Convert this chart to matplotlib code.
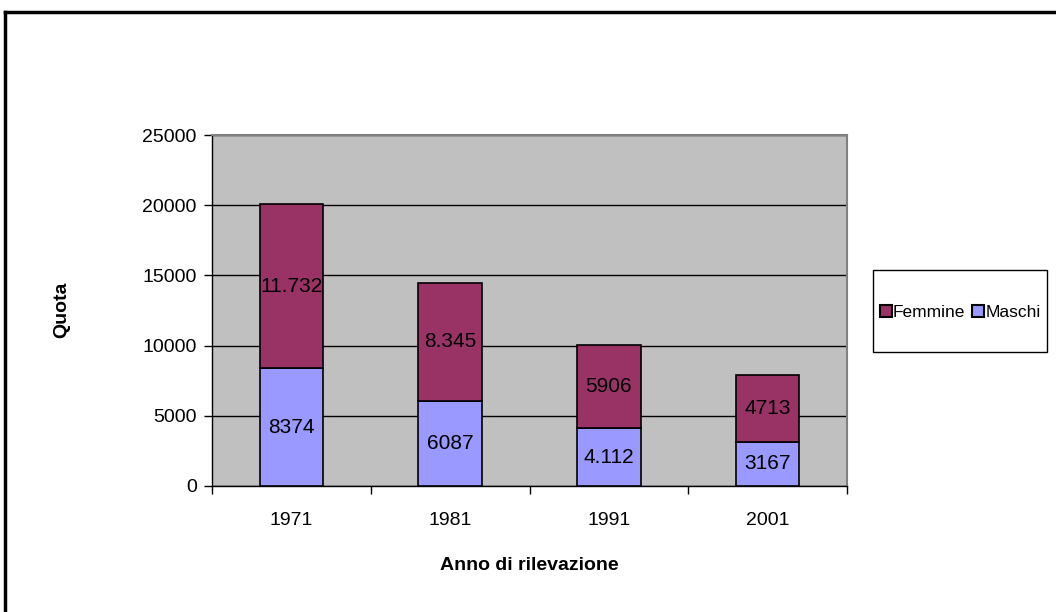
import numpy as np
import matplotlib.pyplot as plt
from matplotlib.lines import Line2D
from matplotlib.patches import Rectangle

# Data
anni = ['1971', '1981', '1991', '2001']
maschi = [8374, 6087, 4112, 3167]
femmine = [11732, 8345, 5906, 4713]
etichette_maschi = ['8374', '6087', '4.112', '3167']
etichette_femmine = ['11.732', '8.345', '5906', '4713']

plt.rcParams['font.family'] = ['Liberation Sans Narrow', 'Liberation Sans', 'DejaVu Sans']

col_f = '#993366'
col_m = '#9999FF'

fig = plt.figure(figsize=(10.56, 6.12), dpi=100)
W, H = 1056, 612
# plot area in pixels: x 212..847, y 135..486
ax = fig.add_axes([212 / W, 1 - 486 / H, (847 - 212) / W, (486 - 135) / H])
ax.set_facecolor('#C0C0C0')

x = np.arange(len(anni))
w = 0.4
ax.bar(x, maschi, w, color=col_m, edgecolor='black', linewidth=1.2, zorder=3)
ax.bar(x, femmine, w, bottom=maschi, color=col_f, edgecolor='black',
       linewidth=1.2, zorder=3)

for i in range(len(anni)):
    ax.text(x[i], maschi[i] / 2, etichette_maschi[i], ha='center', va='center',
            fontsize=15, zorder=4)
    ax.text(x[i], maschi[i] + femmine[i] / 2, etichette_femmine[i], ha='center',
            va='center', fontsize=15, zorder=4)

ax.set_xlim(-0.5, len(anni) - 0.5)
ax.set_ylim(0, 25000)
ax.set_yticks(range(0, 25001, 5000))
ax.yaxis.grid(True, color='black', linewidth=1)
ax.set_axisbelow(True)
ax.set_xticks(x)
ax.set_xticklabels(anni)
ax.set_xticks(np.arange(-0.5, len(anni), 1), minor=True)
ax.tick_params(axis='x', which='major', length=0, pad=19, labelsize=14)
ax.tick_params(axis='x', which='minor', length=6, width=1, direction='out')
ax.tick_params(axis='y', length=6, width=1, direction='out', labelsize=14, pad=5)

for s in ['top', 'right']:
    ax.spines[s].set_color('#808080')
    ax.spines[s].set_linewidth(1.5)
ax.spines['left'].set_linewidth(1)
ax.spines['bottom'].set_linewidth(1)

ax.set_xlabel('Anno di rilevazione', fontsize=14, fontweight='bold', labelpad=20)
fig.text(62 / W, 1 - 310 / H, 'Quota', rotation=90, ha='center', va='center',
         fontsize=14, fontweight='bold')

# legend box
fig.add_artist(Rectangle((873 / W, 1 - 352 / H), (1047 - 873) / W, (352 - 270) / H,
                         transform=fig.transFigure, facecolor='white',
                         edgecolor='black', linewidth=1))
handles = [
    Line2D([], [], marker='s', linestyle='none', markersize=8,
           markerfacecolor=col_f, markeredgecolor='black', markeredgewidth=1.5),
    Line2D([], [], marker='s', linestyle='none', markersize=8,
           markerfacecolor=col_m, markeredgecolor='black', markeredgewidth=1.5),
]
fig.legend(handles, ['Femmine', 'Maschi'], ncol=2, loc='center',
           bbox_to_anchor=(961 / W, 1 - 312 / H), frameon=False, fontsize=12.5,
           handlelength=0.5, handletextpad=0.15, columnspacing=0.5,
           borderpad=0, borderaxespad=0)

# outer frame (left and top)
fig.add_artist(Line2D([5 / W, 5 / W], [0, 1 - 12 / H], color='black', linewidth=2.5,
                      transform=fig.transFigure))
fig.add_artist(Line2D([5 / W, 1], [1 - 12 / H, 1 - 12 / H], color='black',
                      linewidth=2.5, transform=fig.transFigure))

fig.savefig('out.png', dpi=100)
